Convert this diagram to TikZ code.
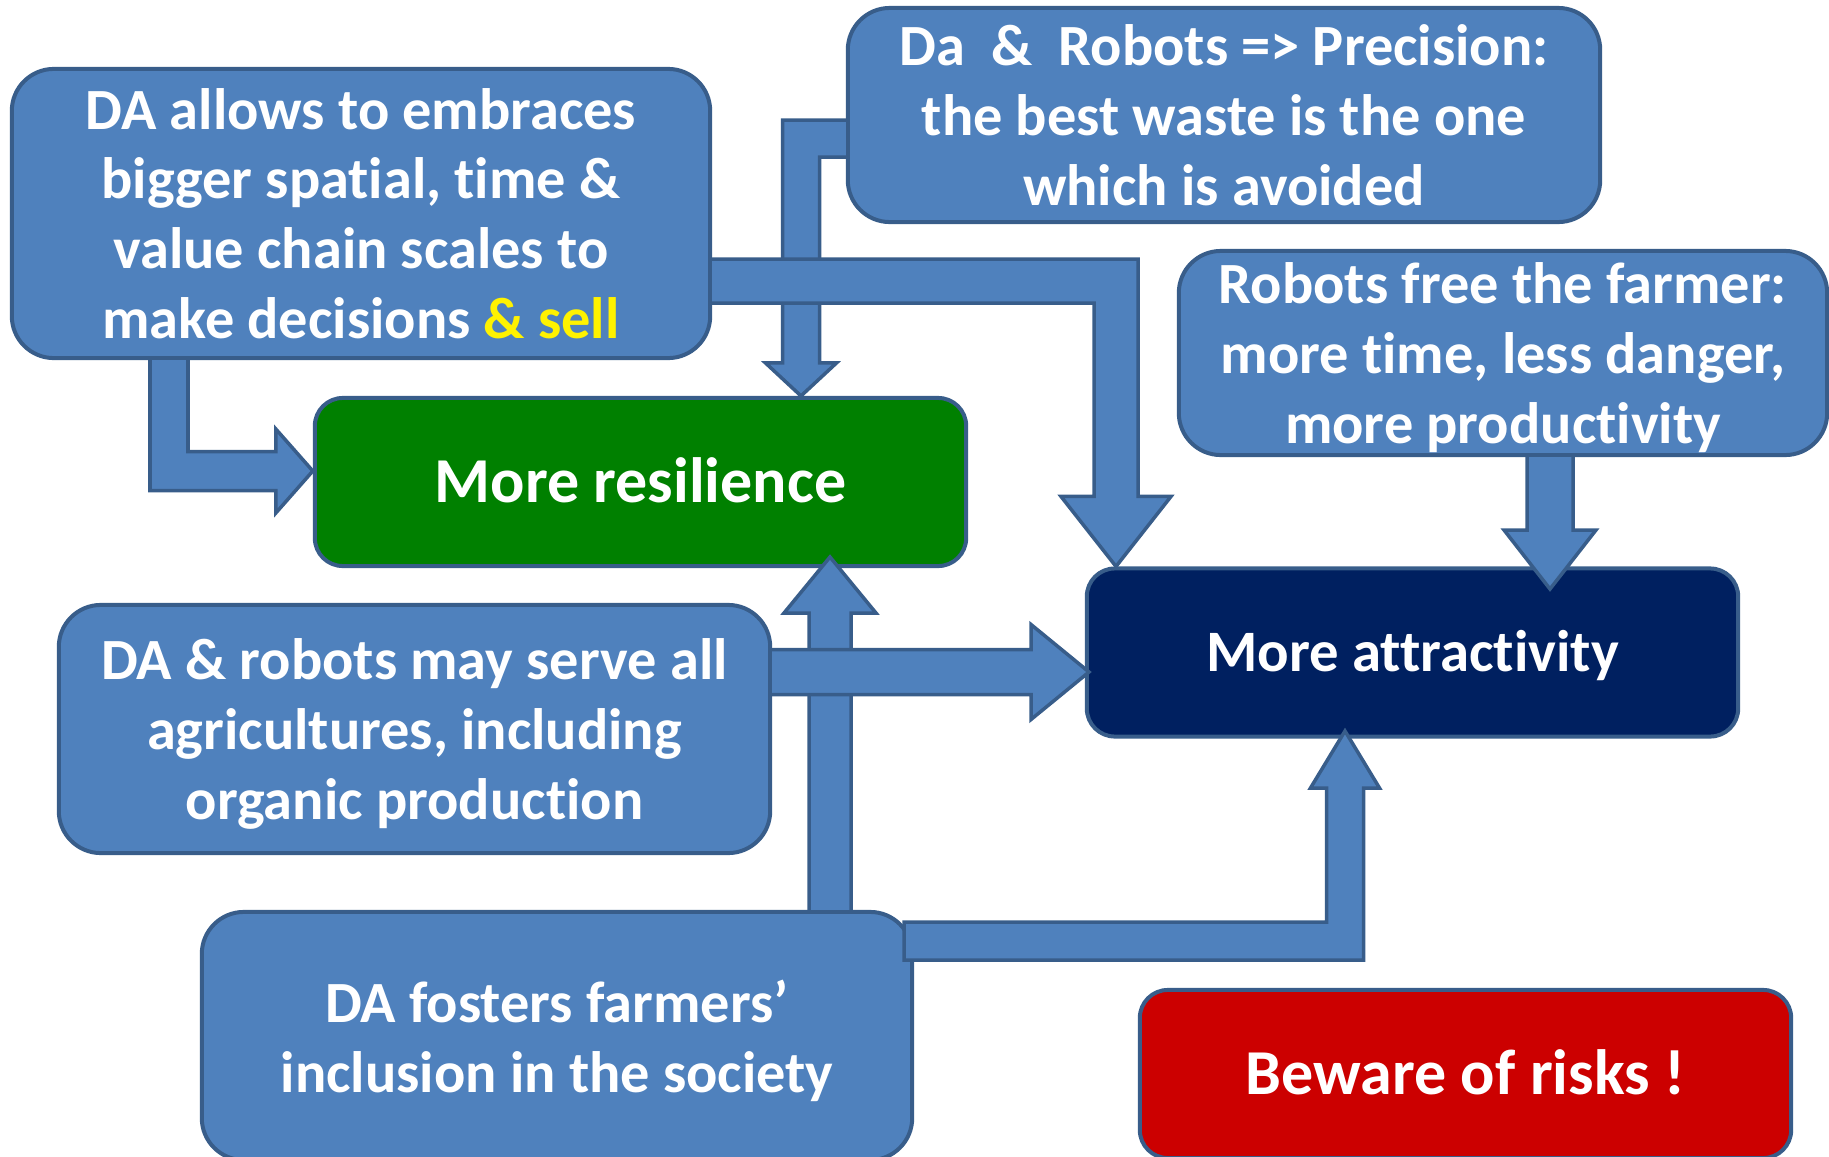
\documentclass[tikz,border=0pt]{standalone}
\usepackage{fontspec}
\setmainfont{Carlito}[Ligatures=NoCommon]
\usetikzlibrary{calc}

\definecolor{fillblue}{HTML}{4F81BD}
\definecolor{lineblue}{HTML}{385D8A}
\definecolor{darkgreen}{HTML}{008000}
\definecolor{navy}{HTML}{002060}
\definecolor{darkred}{HTML}{CC0000}

\tikzset{
  bubble/.style={draw=lineblue, fill=fillblue, line width=0.04cm, rounded corners=0.42cm,
    inner sep=0pt, align=center, text=white, text depth=0pt,
    font=\bfseries\fontsize{16.6}{19.9}\selectfont},
  target/.style={bubble, rounded corners=0.28cm, minimum width=6.51cm, minimum height=1.68cm,
    text height=11.7pt, font=\bfseries\fontsize{18.2}{22}\selectfont},
  fatarrow/.style={draw=lineblue, fill=fillblue, line width=0.035cm, line join=miter},
}

\begin{document}
\begin{tikzpicture}[x=0.01cm, y=-0.01cm]
\useasboundingbox (0,0) rectangle (1829,1157);
% text boxes
\node[bubble, minimum width=6.98cm, minimum height=2.89cm] (scales) at (361,213.5)
  {DA allows to embraces\\bigger spatial, time \&\\value chain scales to\\make decisions \textcolor{yellow}{\& sell}};
\node[bubble, minimum width=7.52cm, minimum height=2.14cm] (precision) at (1224,115)
  {Da\ \ \&\ \ Robots => Precision:\\the best waste is the one\\which is avoided};
\node[bubble, minimum width=6.48cm, minimum height=2.04cm] (freefarmer) at (1503,353)
  {Robots free the farmer:\\more time, less danger,\\more productivity};
\node[bubble, minimum width=7.11cm, minimum height=2.48cm] (organic) at (414.5,729)
  {DA \& robots may serve all\\agricultures, including\\organic production};
\node[bubble, minimum width=7.10cm, minimum height=2.48cm] (inclusion) at (557,1036)
  {DA fosters farmers’\\inclusion in the society};
% outcome boxes
\node[target, fill=darkgreen] (resilience) at (640.5,482) {More resilience};
\node[target, fill=navy, text height=10.8pt, font=\bfseries\fontsize{16.7}{20}\selectfont]
  (attract) at (1412.5,652.5) {More attractivity};
\node[target, fill=darkred] (risks) at (1465.5,1074) {Beware of risks !};

% block arrows
\coordinate (k2) at (801,138.5);
\draw[fatarrow] ($(precision.west |- k2)+(0,-18.5)$) -| ($(k2 |- resilience.north)+(-18.5,-33)$)
  -- ++(-17,0) -- (k2 |- resilience.north) -- ++(35.5,-33) -- ++(-17,0)
  |- ($(precision.west |- k2)+(0,18.5)$);

\coordinate (k3) at (1116,281);
\draw[fatarrow] ($(scales.east |- k3)+(0,-22)$) -| ($(k3 |- attract.north)+(22,-70)$)
  -- ++(33,0) -- (k3 |- attract.north) -- ++(-55,-70) -- ++(33,0)
  |- ($(scales.east |- k3)+(0,22)$);

\coordinate (k1) at (169,471);
\draw[fatarrow] ($(scales.south -| k1)+(-19,0)$) |- ($(resilience.west |- k1)+(-37,19.5)$)
  -- ++(0,22.5) -- (resilience.west |- k1) -- ++(-37,-42) -- ++(0,22.5)
  -| ($(scales.south -| k1)+(19,0)$);

\coordinate (k4) at (1550,530);
\draw[fatarrow] ($(freefarmer.south -| k4)+(-23,0)$) -- ($(k4)+(-23,0)$) -- ++(-23,0)
  -- ++(46,59) -- ++(46,-59) -- ++(-23,0) -- ($(freefarmer.south -| k4)+(23,0)$);

\coordinate (k5) at (830,613);
\draw[fatarrow] ($(inclusion.north -| k5)+(-21,0)$) -- ($(k5)+(-21,0)$) -- ++(-25,0)
  -- ++(46,-56) -- ++(46,56) -- ++(-25,0) -- ($(inclusion.north -| k5)+(21,0)$);

\coordinate (k6) at (1031,672);
\draw[fatarrow] ($(organic.east |- k6)+(0,-22.5)$) -- ($(k6)+(0,-22.5)$) -- ++(0,-25)
  -- ++(58,47.5) -- ++(-58,47.5) -- ++(0,-25) -- ($(organic.east |- k6)+(0,22.5)$);

\coordinate (k7) at (1345,941);
\draw[fatarrow] ($(inclusion.east |- k7)+(-10,19)$) -| ($(k7)+(18.5,-153)$)
  -- ++(16,0) -- ++(-34.5,-57) -- ++(-34.5,57) -- ++(16,0)
  |- ($(inclusion.east |- k7)+(-10,-19)$) -- cycle;
\end{tikzpicture}
\end{document}
